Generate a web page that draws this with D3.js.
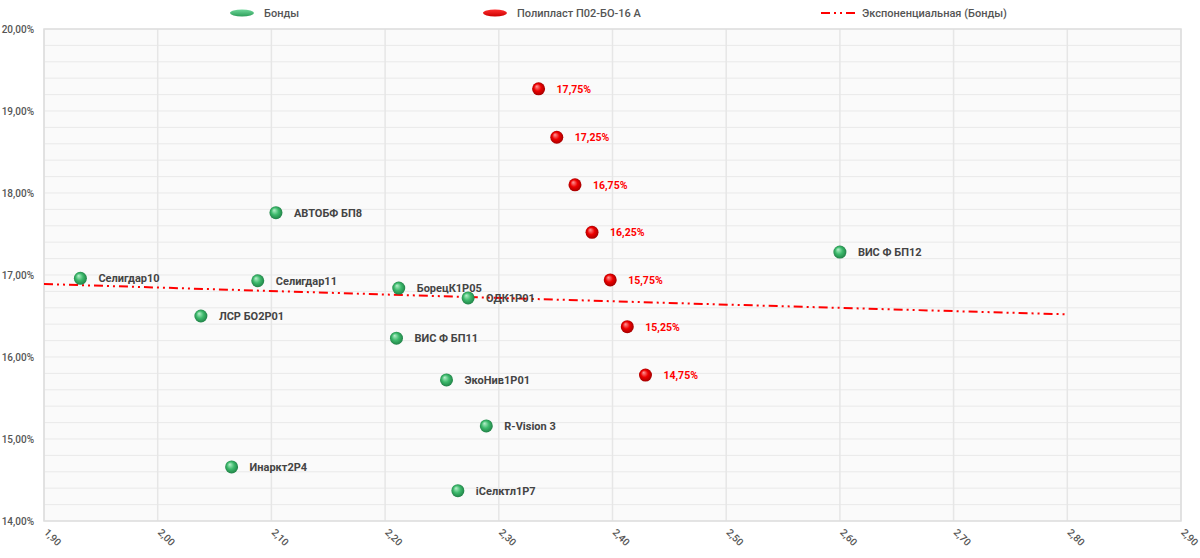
<!DOCTYPE html>
<html><head><meta charset="utf-8">
<script src="https://cdn.jsdelivr.net/npm/d3@7"></script>
<style>
body{margin:0;background:#fff;}
text{font-family:Roboto,"DejaVu Sans Condensed",sans-serif;}
</style></head>
<body><svg id="c" width="1200" height="558"></svg>
<script>
const bondNames = ["Селигдар10","Селигдар11","ЛСР БО2Р01","АВТОБФ БП8","БорецК1Р05","ОДК1Р01","ВИС Ф БП11","ЭкоНив1Р01","R-Vision 3","Инаркт2Р4","iСелктл1Р7","ВИС Ф БП12"];
const bondX = [1.932,2.088,2.038,2.104,2.212,2.273,2.210,2.254,2.289,2.065,2.264,2.600];
const bondY = [16.96,16.93,16.50,17.76,16.84,16.72,16.23,15.72,15.16,14.66,14.37,17.28];
const polyLabels = ["17,75%","17,25%","16,75%","16,25%","15,75%","15,25%","14,75%"];
const polyX = [2.335,2.351,2.367,2.382,2.398,2.413,2.429];
const polyY = [19.27,18.68,18.10,17.52,16.94,16.37,15.78];
const trendX = [1.90,2.35,2.80];
const trendY = [16.89,16.70,16.52];
const xTicks = [1.9,2.0,2.1,2.2,2.3,2.4,2.5,2.6,2.7,2.8,2.9];
const yTicks = [14,15,16,17,18,19,20];
const legendNames = ["Бонды","Полипласт П02-БО-16 А","Экспоненциальная (Бонды)"];

const svg = d3.select("#c");
const L=44,R=1181,T=29,B=521;
const x = d3.scaleLinear().domain([1.9,2.9]).range([L,R]);
const y = d3.scaleLinear().domain([14,20]).range([B,T]);
const fmt = v => d3.format(".2f")(v).replace(".",",");

const defs = svg.append("defs");
function grad(id,c0,c1,c2){
  const g=defs.append("radialGradient").attr("id",id).attr("cx","0.5").attr("cy","0.5").attr("r","0.55").attr("fx","0.35").attr("fy","0.3");
  g.append("stop").attr("offset","0").attr("stop-color",c0);
  g.append("stop").attr("offset","0.5").attr("stop-color",c1);
  g.append("stop").attr("offset","1").attr("stop-color",c2);
}
grad("gG","#b8f0cc","#3dba6c","#1d7a42");
grad("gR","#ff9a9a","#ee0000","#990000");
function lgrad(id,c0,c1){
  const g=defs.append("linearGradient").attr("id",id).attr("x1",0).attr("y1",0).attr("x2",0).attr("y2",1);
  g.append("stop").attr("offset","0").attr("stop-color",c0);
  g.append("stop").attr("offset","1").attr("stop-color",c1);
}
lgrad("lG","#6fd79a","#2e9e5a");
lgrad("lR","#ff3030","#cc0000");

svg.append("rect").attr("x",L).attr("y",T).attr("width",R-L).attr("height",B-T).attr("fill","#fafafa");
const minor = d3.range(0,31).map(i=>14+i*0.2);
svg.append("g").selectAll("line").data(minor).join("line")
  .attr("x1",L).attr("x2",R).attr("y1",d=>y(d)).attr("y2",d=>y(d))
  .attr("stroke","#e9e9e9").attr("stroke-width",1);
svg.append("g").selectAll("line").data(xTicks).join("line")
  .attr("x1",d=>x(d)).attr("x2",d=>x(d)).attr("y1",T).attr("y2",B)
  .attr("stroke","#e6e6e6").attr("stroke-width",1.5);
svg.append("rect").attr("x",L).attr("y",T).attr("width",R-L).attr("height",B-T).attr("fill","none").attr("stroke","#dedede").attr("stroke-width",1.5);

const ya = svg.append("g").attr("transform",`translate(${L},0)`).call(d3.axisLeft(y).tickValues(yTicks).tickFormat(v=>fmt(v)+"%").tickSize(0).tickPadding(10));
ya.select(".domain").remove();
ya.selectAll("text").attr("font-size",10).attr("fill","#555").attr("font-weight",500);
const xa = svg.append("g").attr("transform",`translate(0,${B})`).call(d3.axisBottom(x).tickValues(xTicks).tickFormat(fmt).tickSize(0));
xa.select(".domain").remove();
xa.selectAll("text").attr("font-size",10).attr("fill","#555").attr("font-weight",500)
  .attr("text-anchor","start").attr("dy",0).attr("y",0)
  .attr("transform","translate(-1,12) rotate(45)");

const tline = d3.line().x((d,i)=>x(trendX[i])).y((d,i)=>y(trendY[i])).curve(d3.curveMonotoneX);
svg.append("path").attr("d",tline(trendX)).attr("fill","none").attr("stroke","#ff0000").attr("stroke-width",2)
  .attr("stroke-dasharray","9,4,2,4,2,4");

svg.append("g").selectAll("circle").data(bondX).join("circle")
  .attr("cx",d=>x(d)).attr("cy",(d,i)=>y(bondY[i])).attr("r",6.5).attr("fill","url(#gG)");
svg.append("g").selectAll("text").data(bondNames).join("text")
  .attr("x",(d,i)=>x(bondX[i])+18).attr("y",(d,i)=>y(bondY[i])+4)
  .attr("font-size",11).attr("font-weight","bold").attr("fill","#444").text(d=>d);
svg.append("g").selectAll("circle").data(polyX).join("circle")
  .attr("cx",d=>x(d)).attr("cy",(d,i)=>y(polyY[i])).attr("r",6.5).attr("fill","url(#gR)");
svg.append("g").selectAll("text").data(polyLabels).join("text")
  .attr("x",(d,i)=>x(polyX[i])+18).attr("y",(d,i)=>y(polyY[i])+4)
  .attr("font-size",10.5).attr("font-weight","bold").attr("fill","#ff0000").text(d=>d);

const lg = svg.append("g");
lg.append("ellipse").attr("cx",242).attr("cy",13).attr("rx",12).attr("ry",3.5).attr("fill","url(#lG)");
lg.append("text").attr("x",264).attr("y",17).text(legendNames[0]);
lg.append("ellipse").attr("cx",495).attr("cy",13).attr("rx",12).attr("ry",3.5).attr("fill","url(#lR)");
lg.append("text").attr("x",517).attr("y",17).text(legendNames[1]);
lg.append("line").attr("x1",821).attr("x2",858).attr("y1",13).attr("y2",13).attr("stroke","#ff0000").attr("stroke-width",2)
  .attr("stroke-dasharray","9,4,2,4,2,4");
lg.append("text").attr("x",862).attr("y",17).text(legendNames[2]);
lg.selectAll("text").attr("font-size",11).attr("fill","#555").attr("font-weight",500);
</script></body></html>
